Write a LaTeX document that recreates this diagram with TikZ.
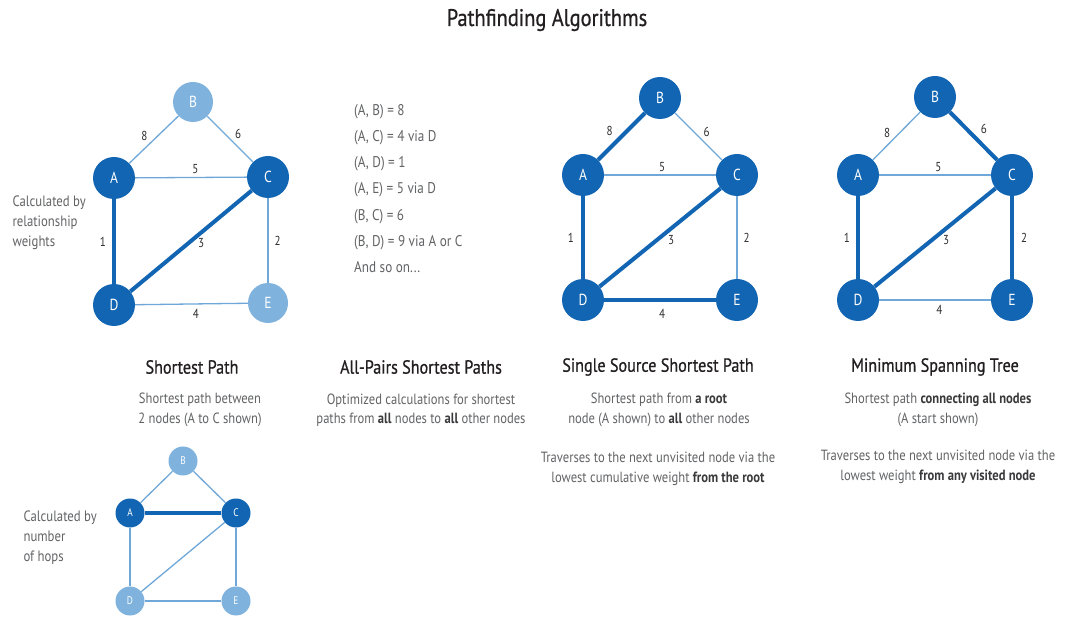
\documentclass[tikz,border=0pt]{standalone}
\usepackage{fontspec}
\setmainfont[FakeStretch=0.85]{PT Sans}
\newfontfamily\headfont[FakeStretch=0.85,FakeBold=0.7]{PT Sans}
\begin{document}
\definecolor{dkblue}{HTML}{1265B2}
\definecolor{ltblue}{HTML}{7FB3DE}
\definecolor{edgeblue}{HTML}{6FA8D8}
\definecolor{headtxt}{HTML}{231F20}
\definecolor{bodytxt}{HTML}{636466}
\definecolor{boldtxt}{HTML}{3A3A3C}
\definecolor{numtxt}{HTML}{2E2E2E}
\begin{tikzpicture}[x=1pt,y=-1pt,
  vdark/.style={circle,fill=dkblue,draw=none,minimum size=42pt,inner sep=0pt,
    text=white,font=\fontsize{16}{16}\selectfont},
  vlight/.style={vdark,fill=ltblue},
  sdark/.style={vdark,minimum size=29pt,font=\fontsize{11}{11}\selectfont},
  slight/.style={sdark,fill=ltblue},
  thinedge/.style={draw=edgeblue,line width=1.3pt},
  thickedge/.style={draw=dkblue,line width=4pt},
  wlbl/.style={text=numtxt,font=\fontsize{13}{13}\selectfont,inner sep=1pt},
  heading/.style={text=headtxt,font=\headfont\fontsize{19}{19}\selectfont,anchor=center},
  desc/.style={text=bodytxt,font=\fontsize{14.8}{19.5}\selectfont,align=center,anchor=center},
  side/.style={text=bodytxt,font=\fontsize{15}{20}\selectfont,align=left,anchor=west}]
\useasboundingbox (0,0) rectangle (1080,628);
\fill[white] (0,0) rectangle (1080,628);

% title
\node[text=headtxt,font=\headfont\fontsize{24}{24}\selectfont] (title) at (547,20) {Pathfinding Algorithms};

% ---------- Shortest Path (weighted) ----------
\node[vdark]  (a1) at (114,178) {A};
\node[vlight,minimum size=40pt] (b1) at (193,102) {B};
\node[vdark]  (c1) at (268,177) {C};
\node[vdark]  (d1) at (114,305) {D};
\node[vlight,minimum size=40pt] (e1) at (268,303) {E};
\draw[thinedge] (a1) -- node[wlbl,pos=0.42,above left=1pt] {8} (b1);
\draw[thinedge] (b1) -- node[wlbl,pos=0.55,above right=1pt] {6} (c1);
\draw[thinedge] (a1) -- node[wlbl,pos=0.54,above=2pt] {5} (c1);
\draw[thinedge] (c1) -- node[wlbl,right=5pt] {2} (e1);
\draw[thinedge] (d1) -- node[wlbl,pos=0.54,below=4pt] {4} (e1);
\draw[thickedge] (a1) -- node[wlbl,left=5pt] {1} (d1);
\draw[thickedge] (d1) -- node[wlbl,pos=0.5,right=4pt,yshift=-2pt] {3} (c1);

\node[side] (sidew) at (9,223) {Calculated by\\relationship\\weights};

% ---------- Shortest Path (hops) ----------
\node[sdark]  (a4) at (130,513) {A};
\node[slight] (b4) at (183,461) {B};
\node[sdark]  (c4) at (236,513) {C};
\node[slight] (d4) at (130,601) {D};
\node[slight] (e4) at (236,601) {E};
\draw[thinedge] (a4) -- (b4);
\draw[thinedge] (b4) -- (c4);
\draw[thinedge] (a4) -- (d4);
\draw[thinedge] (d4) -- (c4);
\draw[thinedge] (c4) -- (e4);
\draw[thinedge] (d4) -- (e4);
\draw[thickedge] (a4) -- (c4);

\node[side] (sideh) at (20,538) {Calculated by\\number\\of hops};

% ---------- All pairs list ----------
\node[text=bodytxt,font=\fontsize{15.5}{26.2}\selectfont,align=left,anchor=north west,inner sep=0pt] (pairs) at (354,104)
  {(A, B) = 8\\(A, C) = 4 via D\\(A, D) = 1\\(A, E) = 5 via D\\(B, C) = 6\\(B, D) = 9 via A or C\\And so on...};

% ---------- Single Source Shortest Path ----------
\node[vdark] (a2) at (583,175) {A};
\node[vdark] (b2) at (660,98) {B};
\node[vdark] (c2) at (737,175) {C};
\node[vdark] (d2) at (583,300) {D};
\node[vdark] (e2) at (737,300) {E};
\draw[thinedge] (b2) -- node[wlbl,pos=0.55,above right=1pt] {6} (c2);
\draw[thinedge] (a2) -- node[wlbl,pos=0.52,above=2pt] {5} (c2);
\draw[thinedge] (c2) -- node[wlbl,right=5pt] {2} (e2);
\draw[thickedge] (a2) -- node[wlbl,pos=0.42,above left=2pt] {8} (b2);
\draw[thickedge] (a2) -- node[wlbl,left=6pt] {1} (d2);
\draw[thickedge] (d2) -- node[wlbl,pos=0.5,right=5pt,yshift=-3pt] {3} (c2);
\draw[thickedge] (d2) -- node[wlbl,pos=0.52,below=6pt] {4} (e2);

% ---------- Minimum Spanning Tree ----------
\node[vdark] (a3) at (858,175) {A};
\node[vdark] (b3) at (935,97) {B};
\node[vdark] (c3) at (1012,175) {C};
\node[vdark] (d3) at (858,300) {D};
\node[vdark] (e3) at (1012,300) {E};
\draw[thinedge] (a3) -- node[wlbl,pos=0.42,above left=1pt] {8} (b3);
\draw[thinedge] (a3) -- node[wlbl,pos=0.53,above=2pt] {5} (c3);
\draw[thinedge] (d3) -- node[wlbl,pos=0.54,below=4pt] {4} (e3);
\draw[thickedge] (b3) -- node[wlbl,pos=0.55,above right=2pt] {6} (c3);
\draw[thickedge] (a3) -- node[wlbl,left=5pt] {1} (d3);
\draw[thickedge] (d3) -- node[wlbl,pos=0.5,right=5pt,yshift=-3pt] {3} (c3);
\draw[thickedge] (c3) -- node[wlbl,right=6pt] {2} (e3);

% ---------- headings ----------
\node[heading] (h1) at (192,367) {Shortest Path};
\node[heading] (h2) at (421,367) {All-Pairs Shortest Paths};
\node[heading] (h3) at (658,367) {Single Source Shortest Path};
\node[heading] (h4) at (935,367) {Minimum Spanning Tree};

% ---------- descriptions ----------
\node[desc] (t1) at (200,410) {Shortest path between\\2 nodes (A to C shown)};
\node[desc] (t2) at (421,410) {Optimized calculations for shortest\\paths from \textcolor{boldtxt}{\bfseries all} nodes to \textcolor{boldtxt}{\bfseries all} other nodes};
\node[desc] (t3) at (659,410) {Shortest path from \textcolor{boldtxt}{\bfseries a root}\\node (A shown) to \textcolor{boldtxt}{\bfseries all} other nodes};
\node[desc] (t3b) at (658,469) {Traverses to the next unvisited node via the\\lowest cumulative weight \textcolor{boldtxt}{\bfseries from the root}};
\node[desc] (t4) at (938,410) {Shortest path \textcolor{boldtxt}{\bfseries connecting all nodes}\\(A start shown)};
\node[desc] (t4b) at (938,467) {Traverses to the next unvisited node via the\\lowest weight \textcolor{boldtxt}{\bfseries from any visited node}};
\end{tikzpicture}
\end{document}
